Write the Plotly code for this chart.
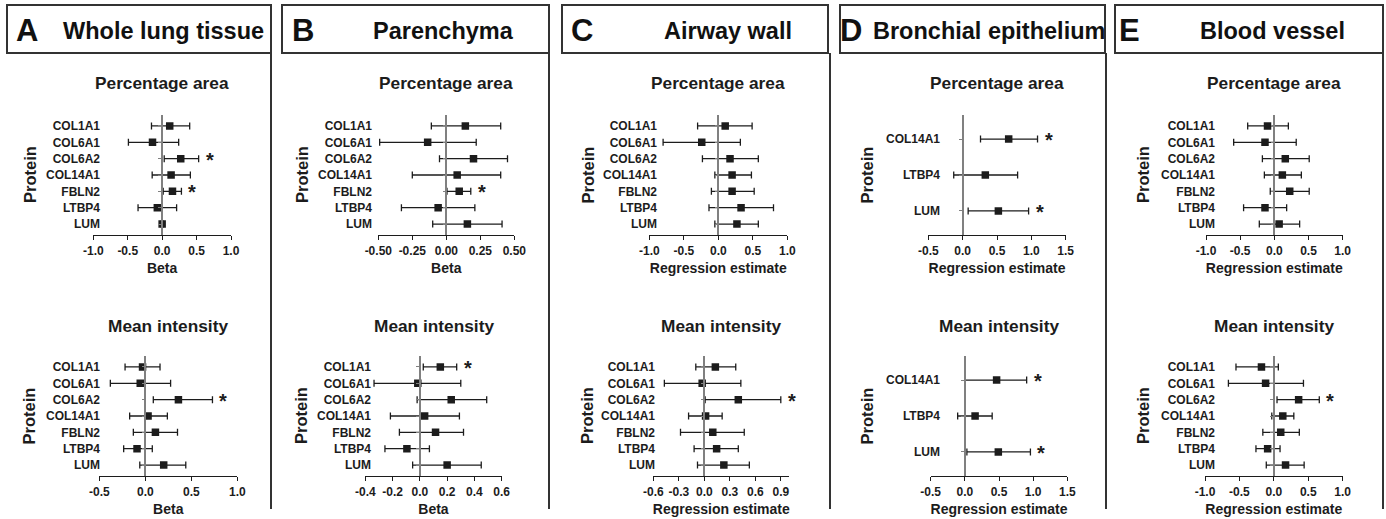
import plotly.graph_objects as go

W, H = 1386, 519

# ---------------- data ----------------
proteins7 = ["COL1A1", "COL6A1", "COL6A2", "COL14A1", "FBLN2", "LTBP4", "LUM"]
proteins3 = ["COL14A1", "LTBP4", "LUM"]

# A  Whole lung tissue
A_area_est = [0.11, -0.14, 0.27, 0.13, 0.15, -0.07, 0.00]
A_area_lo = [-0.155, -0.49, 0.03, -0.145, 0.015, -0.35, -0.015]
A_area_hi = [0.40, 0.24, 0.53, 0.41, 0.28, 0.21, 0.015]
A_area_sig = [0, 0, 1, 0, 1, 0, 0]
A_int_est = [-0.03, -0.055, 0.36, 0.03, 0.11, -0.09, 0.20]
A_int_lo = [-0.22, -0.38, 0.087, -0.17, -0.13, -0.235, -0.06]
A_int_hi = [0.16, 0.275, 0.73, 0.24, 0.35, 0.076, 0.44]
A_int_sig = [0, 0, 1, 0, 0, 0, 0]

# B  Parenchyma
B_area_est = [0.14, -0.137, 0.20, 0.08, 0.095, -0.06, 0.155]
B_area_lo = [-0.11, -0.49, -0.05, -0.25, 0.005, -0.33, -0.10]
B_area_hi = [0.40, 0.22, 0.45, 0.40, 0.18, 0.21, 0.41]
B_area_sig = [0, 0, 0, 0, 1, 0, 0]
B_int_est = [0.15, -0.015, 0.23, 0.035, 0.115, -0.095, 0.20]
B_int_lo = [0.025, -0.336, -0.02, -0.216, -0.15, -0.256, -0.053]
B_int_hi = [0.27, 0.30, 0.49, 0.29, 0.32, 0.07, 0.45]
B_int_sig = [1, 0, 0, 0, 0, 0, 0]

# C  Airway wall
C_area_est = [0.10, -0.24, 0.17, 0.20, 0.20, 0.33, 0.27]
C_area_lo = [-0.30, -0.80, -0.23, -0.05, -0.10, -0.135, -0.05]
C_area_hi = [0.49, 0.32, 0.58, 0.48, 0.52, 0.80, 0.58]
C_area_sig = [0, 0, 0, 0, 0, 0, 0]
C_int_est = [0.13, -0.025, 0.40, 0.015, 0.10, 0.145, 0.23]
C_int_lo = [-0.10, -0.47, 0.01, -0.185, -0.28, -0.12, -0.08]
C_int_hi = [0.37, 0.43, 0.90, 0.21, 0.47, 0.40, 0.53]
C_int_sig = [0, 0, 1, 0, 0, 0, 0]

# D  Bronchial epithelium
D_area_est = [0.67, 0.33, 0.52]
D_area_lo = [0.26, -0.13, 0.08]
D_area_hi = [1.09, 0.80, 0.96]
D_area_sig = [1, 0, 1]
D_int_est = [0.465, 0.15, 0.49]
D_int_lo = [0.0, -0.105, 0.03]
D_int_hi = [0.905, 0.40, 0.96]
D_int_sig = [1, 0, 1]

# E  Blood vessel
E_area_est = [-0.10, -0.137, 0.16, 0.117, 0.225, -0.137, 0.07]
E_area_lo = [-0.39, -0.595, -0.175, -0.146, -0.06, -0.45, -0.22]
E_area_hi = [0.205, 0.32, 0.51, 0.395, 0.51, 0.18, 0.37]
E_area_sig = [0, 0, 0, 0, 0, 0, 0]
E_int_est = [-0.18, -0.12, 0.36, 0.13, 0.10, -0.09, 0.17]
E_int_lo = [-0.55, -0.66, 0.046, -0.03, -0.16, -0.26, -0.11]
E_int_hi = [0.065, 0.43, 0.66, 0.29, 0.37, 0.09, 0.44]
E_int_sig = [0, 0, 1, 0, 0, 0, 0]

# tick labels
ticks_m1_1 = [-1.0, -0.5, 0.0, 0.5, 1.0]
labels_m1_1 = ["-1.0", "-0.5", "0.0", "0.5", "1.0"]
ticks_m05_1 = [-0.5, 0.0, 0.5, 1.0]
labels_m05_1 = ["-0.5", "0.0", "0.5", "1.0"]
ticks_B_area = [-0.5, -0.25, 0.0, 0.25, 0.5]
labels_B_area = ["-0.50", "-0.25", "0.00", "0.25", "0.50"]
ticks_B_int = [-0.4, -0.2, 0.0, 0.2, 0.4, 0.6]
labels_B_int = ["-0.4", "-0.2", "0.0", "0.2", "0.4", "0.6"]
ticks_C_int = [-0.6, -0.3, 0.0, 0.3, 0.6, 0.9]
labels_C_int = ["-0.6", "-0.3", "0.0", "0.3", "0.6", "0.9"]
ticks_D = [-0.5, 0.0, 0.5, 1.0, 1.5]
labels_D = ["-0.5", "0.0", "0.5", "1.0", "1.5"]

panel_letters = ["A", "B", "C", "D", "E"]
panel_titles = ["Whole lung tissue", "Parenchyma", "Airway wall", "Bronchial epithelium", "Blood vessel"]
sub_titles = ["Percentage area", "Mean intensity"]
y_title = "Protein"

# ---------------- layout constants ----------------
FONT = "Arial, 'Liberation Sans', Helvetica, sans-serif"
INK = "#1c1c1c"
ROW_Y = {"top": (115, 235), "bottom": (356, 476)}
SUBTITLE_Y = {"top": 83, "bottom": 326}

subplots = [
    dict(p=proteins7, e=A_area_est, lo=A_area_lo, hi=A_area_hi, s=A_area_sig, tv=ticks_m1_1, tt=labels_m1_1,
         xr=[-1.0, 1.0], xpx=(93.3, 231.0), row="top", lab=100, ytx=30, xt="Beta"),
    dict(p=proteins7, e=A_int_est, lo=A_int_lo, hi=A_int_hi, s=A_int_sig, tv=ticks_m05_1, tt=labels_m05_1,
         xr=[-0.5, 1.0], xpx=(99.3, 237.3), row="bottom", lab=100, ytx=28.5, xt="Beta"),
    dict(p=proteins7, e=B_area_est, lo=B_area_lo, hi=B_area_hi, s=B_area_sig, tv=ticks_B_area, tt=labels_B_area,
         xr=[-0.5, 0.5], xpx=(378.3, 514.3), row="top", lab=372, ytx=302, xt="Beta"),
    dict(p=proteins7, e=B_int_est, lo=B_int_lo, hi=B_int_hi, s=B_int_sig, tv=ticks_B_int, tt=labels_B_int,
         xr=[-0.4, 0.6], xpx=(365.3, 501.7), row="bottom", lab=371, ytx=301, xt="Beta"),
    dict(p=proteins7, e=C_area_est, lo=C_area_lo, hi=C_area_hi, s=C_area_sig, tv=ticks_m1_1, tt=labels_m1_1,
         xr=[-1.0, 1.0], xpx=(649.3, 787.3), row="top", lab=657, ytx=587.5, xt="Regression estimate"),
    dict(p=proteins7, e=C_int_est, lo=C_int_lo, hi=C_int_hi, s=C_int_sig, tv=ticks_C_int, tt=labels_C_int,
         xr=[-0.6, 1.0], xpx=(653.3, 789.3), row="bottom", lab=655, ytx=587, xt="Regression estimate"),
    dict(p=proteins3, e=D_area_est, lo=D_area_lo, hi=D_area_hi, s=D_area_sig, tv=ticks_D, tt=labels_D,
         xr=[-0.5, 1.5], xpx=(928.3, 1065.7), row="top", lab=940, ytx=866.5, xt="Regression estimate"),
    dict(p=proteins3, e=D_int_est, lo=D_int_lo, hi=D_int_hi, s=D_int_sig, tv=ticks_D, tt=labels_D,
         xr=[-0.5, 1.5], xpx=(930.7, 1067.3), row="bottom", lab=940, ytx=866.5, xt="Regression estimate"),
    dict(p=proteins7, e=E_area_est, lo=E_area_lo, hi=E_area_hi, s=E_area_sig, tv=ticks_m1_1, tt=labels_m1_1,
         xr=[-1.0, 1.0], xpx=(1206.0, 1342.7), row="top", lab=1215, ytx=1143, xt="Regression estimate"),
    dict(p=proteins7, e=E_int_est, lo=E_int_lo, hi=E_int_hi, s=E_int_sig, tv=ticks_m1_1, tt=labels_m1_1,
         xr=[-1.0, 1.0], xpx=(1205.0, 1342.7), row="bottom", lab=1215, ytx=1143, xt="Regression estimate"),
]

# header boxes (x0, x1) and separator lines
header_boxes = [(7, 271), (282, 549), (562, 828), (840, 1105), (1115, 1383)]
letter_x = [27, 303, 582, 851, 1129]
title_x = [163, 443, 728, 989, 1272]
sep_x = [271, 549, 830, 1106, 1383]


def px(x):
    return x / W


def py(y):
    return 1 - y / H


fig = go.Figure()
layout = {}
annotations = []
n_sub = len(subplots)

for k, sp in enumerate(subplots, start=1):
    xa, ya, yz = f"xaxis{k}", f"yaxis{k}", f"yaxis{k + n_sub}"
    xref, yref = f"x{k}", f"y{k}"
    n = len(sp["p"])
    cats = list(range(n))
    l, r = sp["xpx"]
    t, b = ROW_Y[sp["row"]]
    yrange = [n - 1 + 0.67, -0.67]

    fig.add_trace(go.Scatter(
        x=sp["e"], y=cats, xaxis=xref, yaxis=yref, mode="markers",
        marker=dict(symbol="square", size=7.5, color=INK),
        error_x=dict(type="data", symmetric=False,
                     array=[h - e for h, e in zip(sp["hi"], sp["e"])],
                     arrayminus=[e - lo for e, lo in zip(sp["e"], sp["lo"])],
                     color=INK, thickness=1.3, width=3.5),
        showlegend=False, hoverinfo="skip"))

    layout[xa] = dict(domain=[px(l), px(r)], anchor=yref, range=sp["xr"],
                      tickvals=sp["tv"], ticktext=sp["tt"],
                      showline=True, linecolor=INK, linewidth=1.2,
                      ticks="outside", ticklen=4, tickwidth=1.2, tickcolor=INK,
                      tickfont=dict(family=FONT, size=12, color=INK, weight="bold"),
                      title=dict(text=sp["xt"], standoff=6,
                                 font=dict(family=FONT, size=14, color=INK, weight="bold")),
                      automargin=False, showgrid=False, zeroline=False, fixedrange=True)
    layout[ya] = dict(domain=[py(b), py(t)], anchor="free", position=px(sp["lab"]),
                      range=yrange, tickvals=cats, ticktext=sp["p"],
                      showline=False, ticks="", showgrid=False, zeroline=False,
                      tickfont=dict(family=FONT, size=12, color=INK, weight="bold"),
                      automargin=False, fixedrange=True)
    r0, r1 = sp["xr"]
    zero_px = l + (0 - r0) / (r1 - r0) * (r - l)
    layout[yz] = dict(overlaying=yref, anchor="free", position=px(zero_px),
                      range=yrange, tickvals=cats, showticklabels=False,
                      showline=True, linecolor="#808080", linewidth=1.5,
                      ticks="outside", ticklen=3, tickwidth=1, tickcolor="#808080",
                      automargin=False, showgrid=False, zeroline=False, fixedrange=True)
    fig.add_trace(go.Scatter(x=[None], y=[None], xaxis=xref, yaxis=f"y{k + n_sub}",
                             showlegend=False, hoverinfo="skip"))

    # significance asterisks
    for i, (sig, hi) in enumerate(zip(sp["s"], sp["hi"])):
        if sig:
            annotations.append(dict(x=hi, y=i, xref=xref, yref=yref, text="*", showarrow=False,
                                    xanchor="left", yanchor="middle", xshift=5, yshift=-1,
                                    font=dict(family=FONT, size=20, color=INK, weight="bold")))
    # subplot title
    annotations.append(dict(x=px((l + r) / 2), y=py(SUBTITLE_Y[sp["row"]]), xref="paper", yref="paper",
                            text=sub_titles[0] if sp["row"] == "top" else sub_titles[1],
                            showarrow=False, xanchor="center", yanchor="middle",
                            font=dict(family=FONT, size=17.3, color=INK, weight="bold")))
    # y axis title
    annotations.append(dict(x=px(sp["ytx"]), y=py((t + b) / 2), xref="paper", yref="paper",
                            text=y_title, textangle=-90, showarrow=False,
                            xanchor="center", yanchor="middle",
                            font=dict(family=FONT, size=16.5, color=INK, weight="bold")))

shapes = []
for j, (x0, x1) in enumerate(header_boxes):
    shapes.append(dict(type="rect", xref="paper", yref="paper", x0=px(x0), x1=px(x1), y0=py(53), y1=py(5),
                       line=dict(color="#333333", width=2), fillcolor="rgba(0,0,0,0)"))
    shapes.append(dict(type="line", xref="paper", yref="paper", x0=px(sep_x[j]), x1=px(sep_x[j]),
                       y0=py(53), y1=py(509), line=dict(color="#333333", width=2)))
    annotations.append(dict(x=px(letter_x[j]), y=py(31), xref="paper", yref="paper", text=panel_letters[j],
                            showarrow=False, xanchor="center", yanchor="middle",
                            font=dict(family=FONT, size=31, color="#111111", weight="bold")))
    annotations.append(dict(x=px(title_x[j]), y=py(31), xref="paper", yref="paper", text=panel_titles[j],
                            showarrow=False, xanchor="center", yanchor="middle",
                            font=dict(family=FONT, size=23.5, color="#111111", weight="bold")))

fig.update_layout(width=W, height=H, margin=dict(l=0, r=0, t=0, b=0, autoexpand=False),
                  paper_bgcolor="white", plot_bgcolor="white",
                  annotations=annotations, shapes=shapes, **layout)

fig.write_html("out.html", config={"displayModeBar": False},
               post_script="document.body.style.margin='0px';document.body.style.overflow='hidden';")
